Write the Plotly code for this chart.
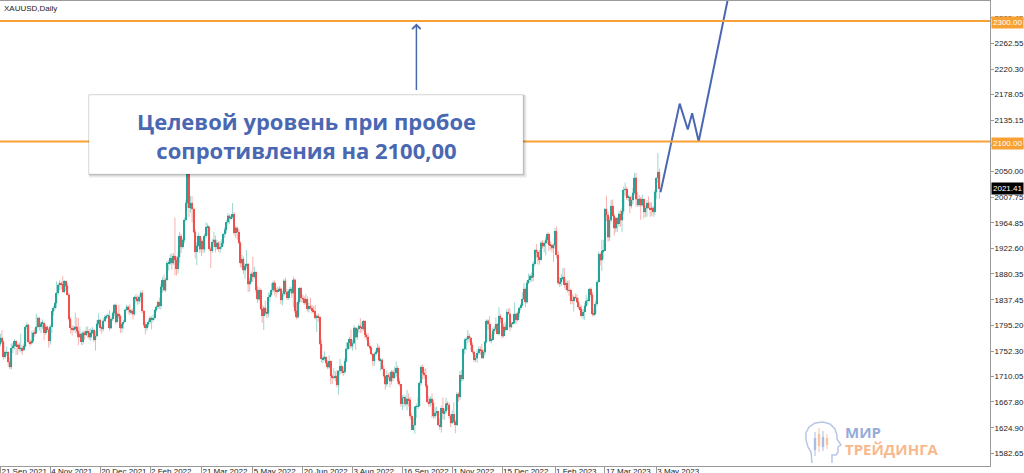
import pandas as pd
import plotly.graph_objects as go

# ---------------- data (XAUUSD daily) ----------------
open_ = [
    1764,1774,1768,1743,1750,1750,1734,1726,
    1757,1761,1769,1760,1763,1756,1757,1754,1760,1793,1796,1768,1765,1769,1783,1782,1793,1807,1793,1798,1799,
    1783,1793,1788,1769,1793,1818,1824,1832,1849,1862,1865,1863,1851,1868,1860,1846,1805,1790,1788,1790,1793,1785,
    1775,1781,1768,1783,1779,1785,1783,1775,1783,1787,1771,1777,1798,1804,1791,1789,1803,1808,1811,1811,1790,1805,1815,
    1829,1801,1814,1810,1790,1797,1801,1821,1826,1821,1817,1819,1813,1842,1839,1835,1842,1849,1819,1796,1791,
    1797,1801,1807,1805,1807,1820,1826,1833,1827,1859,1870,1853,1871,1898,1898,1906,1898,1910,1904,1889,
    1909,1943,1925,1936,1970,1998,2050,1990,1998,1988,1950,1917,1927,1943,1921,1935,1921,1944,1958,1958,1922,1919,1933,
    1937,1925,1932,1922,1925,1931,1946,1954,1966,1977,1973,1975,1979,1949,1957,1950,1932,1898,1905,1886,1894,
    1897,1863,1868,1881,1876,1883,1854,1838,1853,1822,1811,1824,1815,1815,1842,1846,1853,1866,1853,1851,1853,1856,
    1837,1847,1869,1851,1841,1852,1855,1848,1871,1819,1808,1834,1857,1840,1839,1832,1838,1822,1827,1823,1820,1818,
    1807,1811,1808,1764,1739,1740,1742,1733,1725,1735,1711,1708,1709,1711,1696,1719,1727,1719,1717,1735,1756,
    1766,1772,1760,1765,1791,1775,1789,1794,1792,1789,1802,1779,1775,1761,1758,1747,1736,1748,1751,1758,1737,1738,1723,
    1711,1697,1712,1710,1702,1718,1708,1716,1724,1702,1697,1665,1675,1675,1664,1673,1671,1644,1622,1629,1660,1660,
    1661,1699,1725,1716,1712,1695,1668,1666,1673,1666,1644,1650,1652,1629,1627,1657,1649,1652,1665,1663,1645,
    1633,1647,1635,1630,1681,1676,1712,1706,1755,1771,1772,1777,1774,1762,1751,1738,1740,1749,1755,1754,1741,1750,
    1768,1803,1797,1769,1771,1786,1789,1797,1781,1810,1807,1777,1793,1788,1817,1814,1792,1798,1799,1814,1804,1815,
    1824,1828,1839,1855,1833,1865,1871,1877,1875,1897,1920,1916,1908,1904,1932,1926,1931,1937,1946,1929,1928,1923,
    1928,1951,1912,1865,1867,1873,1875,1862,1865,1853,1853,1836,1836,1842,1841,1834,1825,1822,1811,1817,
    1827,1836,1836,1855,1846,1813,1814,1831,1867,1913,1903,1918,1919,1988,1978,1941,1969,1993,1977,1956,1973,1964,1980,
    1969,1984,2020,2021,2007,2008,1993,2003,2015,2040,2004,1995,2005,1994,2004,1983,1989,1998,1990,1988,
    1990,1983,2016,2040,2049,
]
high = [
    1781,1787,1770,1753,1760,1752,1742,1765,
    1765,1772,1770,1763,1767,1781,1762,1765,1796,1800,1797,1772,1785,1787,1790,1814,1810,1809,1801,1805,1801,
    1797,1795,1790,1796,1819,1827,1834,1868,1865,1870,1868,1877,1870,1869,1865,1849,1809,1795,1794,1816,1808,1807,
    1793,1783,1786,1786,1793,1793,1789,1790,1792,1789,1785,1804,1815,1806,1795,1807,1812,1813,1815,1820,1808,1818,1830,
    1831,1816,1829,1813,1799,1804,1823,1829,1828,1830,1822,1823,1844,1847,1844,1846,1852,1853,1820,1800,1798,
    1805,1810,1810,1813,1822,1829,1836,1841,1864,1875,1879,1874,1902,1903,1913,1914,1915,1974,1909,1917,
    1950,1947,1940,1974,2003,2070,2057,2010,2009,1990,1954,1933,1949,1944,1939,1937,1947,1966,1964,1960,1926,1938,1950,
    1944,1937,1934,1935,1938,1948,1958,1970,1981,1979,1978,1998,1983,1960,1959,1955,1935,1912,1909,1898,1920,
    1898,1874,1884,1909,1892,1885,1860,1858,1856,1829,1827,1836,1823,1849,1850,1865,1869,1870,1857,1859,1860,1858,
    1852,1872,1874,1855,1855,1859,1858,1876,1873,1833,1837,1858,1858,1846,1843,1847,1843,1833,1841,1829,1827,1829,
    1813,1815,1810,1771,1745,1752,1744,1737,1745,1737,1714,1724,1719,1721,1721,1739,1730,1726,1740,1767,1767,
    1776,1788,1771,1795,1792,1791,1797,1807,1800,1804,1803,1783,1782,1766,1760,1749,1750,1754,1765,1762,1741,1740,1728,
    1712,1720,1716,1718,1721,1721,1726,1735,1728,1707,1698,1679,1680,1678,1688,1682,1676,1649,1641,1661,1665,1676,
    1702,1729,1730,1722,1724,1697,1677,1677,1682,1671,1659,1660,1653,1640,1662,1675,1657,1675,1669,1667,1648,
    1654,1667,1638,1684,1684,1719,1721,1757,1774,1775,1787,1781,1776,1767,1753,1746,1755,1760,1760,1764,1755,1769,
    1805,1805,1810,1780,1791,1794,1808,1799,1825,1814,1808,1798,1800,1822,1823,1824,1801,1801,1833,1816,1818,1826,
    1831,1850,1865,1858,1869,1881,1880,1883,1901,1922,1930,1920,1920,1935,1937,1935,1942,1949,1949,1935,1930,1931,
    1957,1959,1918,1875,1880,1890,1890,1871,1869,1870,1856,1847,1844,1848,1847,1841,1830,1828,1822,1832,
    1845,1841,1857,1858,1850,1822,1836,1870,1917,1916,1937,1937,1990,2010,1984,1975,2003,2004,1980,1975,1975,1985,1987,
    1990,2025,2032,2025,2012,2010,2010,2023,2048,2048,2016,2011,2008,2012,2005,1994,2003,2009,2000,1999,
    1993,2019,2040,2081,2055,
]
low = [
    1760,1764,1738,1740,1745,1726,1722,1722,
    1749,1755,1746,1746,1752,1750,1746,1752,1758,1789,1765,1760,1763,1766,1776,1781,1790,1786,1782,1789,1770,
    1779,1784,1758,1763,1782,1811,1820,1824,1845,1853,1855,1849,1848,1852,1844,1802,1782,1778,1785,1782,1781,1762,
    1775,1762,1763,1771,1777,1774,1771,1769,1780,1767,1753,1776,1793,1785,1781,1785,1800,1805,1806,1786,1789,1802,1810,
    1797,1799,1806,1782,1783,1789,1800,1819,1814,1812,1813,1805,1811,1833,1829,1830,1834,1815,1792,1780,1786,
    1792,1797,1788,1800,1804,1817,1822,1822,1821,1849,1851,1850,1869,1886,1895,1887,1895,1878,1878,1881,
    1898,1915,1922,1931,1967,1990,1975,1982,1966,1948,1906,1895,1926,1915,1910,1915,1916,1940,1944,1918,1890,1915,1925,
    1916,1920,1917,1915,1921,1926,1940,1948,1962,1963,1970,1972,1944,1940,1937,1930,1891,1890,1880,1872,1889,
    1850,1851,1865,1867,1872,1849,1832,1836,1821,1799,1787,1812,1807,1808,1834,1843,1850,1845,1841,1848,1850,1830,
    1828,1843,1846,1837,1837,1847,1841,1825,1815,1805,1806,1830,1833,1833,1829,1829,1818,1816,1821,1814,1815,1805,
    1784,1801,1763,1733,1732,1736,1728,1722,1723,1697,1698,1705,1702,1692,1680,1713,1715,1711,1714,1733,1753,
    1756,1756,1753,1764,1754,1771,1783,1782,1783,1786,1773,1770,1759,1754,1745,1727,1728,1744,1749,1734,1720,1721,1708,
    1688,1693,1705,1692,1697,1702,1706,1710,1697,1694,1660,1654,1659,1661,1654,1660,1639,1621,1620,1615,1641,1656,
    1660,1695,1705,1706,1691,1665,1660,1660,1642,1640,1640,1645,1628,1621,1617,1639,1638,1648,1654,1640,1626,
    1631,1633,1616,1628,1668,1671,1701,1703,1747,1754,1765,1767,1754,1747,1734,1734,1733,1746,1746,1739,1739,1745,
    1765,1788,1767,1765,1770,1780,1785,1780,1778,1799,1773,1775,1784,1786,1813,1785,1790,1796,1797,1797,1801,1809,
    1820,1826,1837,1825,1831,1864,1867,1867,1868,1893,1907,1896,1896,1902,1922,1916,1911,1930,1918,1920,1916,1900,
    1922,1906,1862,1859,1860,1869,1856,1853,1850,1844,1830,1830,1818,1838,1832,1822,1818,1809,1805,1804,
    1826,1829,1834,1842,1810,1809,1812,1827,1866,1894,1885,1905,1918,1968,1934,1935,1966,1976,1944,1949,1950,1959,1959,
    1950,1979,2010,2003,2001,1981,1989,1996,2012,1992,1992,1992,1970,1992,1972,1975,1975,1989,1975,1977,
    1975,1978,2004,2031,2005,
]
close = [
    1774,1768,1743,1750,1750,1734,1726,1757,
    1761,1769,1760,1763,1756,1757,1754,1760,1793,1796,1768,1765,1769,1783,1782,1793,1807,1793,1798,1799,1783,
    1793,1788,1769,1793,1818,1824,1832,1849,1862,1865,1863,1851,1868,1860,1846,1805,1790,1788,1790,1793,1785,1775,
    1781,1768,1783,1779,1785,1783,1775,1783,1787,1771,1777,1798,1804,1791,1789,1803,1808,1811,1811,1790,1805,1815,1829,
    1801,1814,1810,1790,1797,1801,1821,1826,1821,1817,1819,1813,1842,1839,1835,1842,1849,1819,1796,1791,1797,
    1801,1807,1805,1807,1820,1826,1833,1827,1859,1870,1853,1871,1898,1898,1906,1898,1910,1904,1889,1909,
    1943,1925,1936,1970,1998,2050,1990,1998,1988,1950,1917,1927,1943,1921,1935,1921,1944,1958,1958,1922,1919,1933,1937,
    1925,1932,1922,1925,1931,1946,1954,1966,1977,1973,1975,1979,1949,1957,1950,1932,1898,1905,1886,1894,1897,
    1863,1868,1881,1876,1883,1854,1838,1853,1822,1811,1824,1815,1815,1842,1846,1853,1866,1853,1851,1853,1856,1837,
    1847,1869,1851,1841,1852,1855,1848,1871,1819,1808,1834,1857,1840,1839,1832,1838,1822,1827,1823,1820,1818,1807,
    1811,1808,1764,1739,1740,1742,1733,1725,1735,1711,1708,1709,1711,1696,1719,1727,1719,1717,1735,1756,1766,
    1772,1760,1765,1791,1775,1789,1794,1792,1789,1802,1779,1775,1761,1758,1747,1736,1748,1751,1758,1737,1738,1723,1711,
    1697,1712,1710,1702,1718,1708,1716,1724,1702,1697,1665,1675,1675,1664,1673,1671,1644,1622,1629,1660,1660,1661,
    1699,1725,1716,1712,1695,1668,1666,1673,1666,1644,1650,1652,1629,1627,1657,1649,1652,1665,1663,1645,1633,
    1647,1635,1630,1681,1676,1712,1706,1755,1771,1772,1777,1774,1762,1751,1738,1740,1749,1755,1754,1741,1750,1768,
    1803,1797,1769,1771,1786,1789,1797,1781,1810,1807,1777,1793,1788,1817,1814,1792,1798,1799,1814,1804,1815,1824,
    1828,1839,1855,1833,1865,1871,1877,1875,1897,1920,1916,1908,1904,1932,1926,1931,1937,1946,1929,1928,1923,1928,
    1951,1912,1865,1867,1873,1875,1862,1865,1853,1853,1836,1836,1842,1841,1834,1825,1822,1811,1817,1827,
    1836,1836,1855,1846,1813,1814,1831,1867,1913,1903,1918,1919,1988,1978,1941,1969,1993,1977,1956,1973,1964,1980,1969,
    1984,2020,2021,2007,2008,1993,2003,2015,2040,2004,1995,2005,1994,2004,1983,1989,1998,1990,1988,1990,
    1983,2016,2040,2049,2021.41,
]

tick_dates = ["2021-09-21", "2021-11-04", "2021-12-20", "2022-02-02", "2022-03-21",
              "2022-05-05", "2022-06-20", "2022-08-03", "2022-09-16", "2022-11-01",
              "2022-12-15", "2023-02-01", "2023-03-17", "2023-05-03"]
tick_text = ["21 Sep 2021", "4 Nov 2021", "20 Dec 2021", "2 Feb 2022", "21 Mar 2022",
             "5 May 2022", "20 Jun 2022", "3 Aug 2022", "16 Sep 2022", "1 Nov 2022",
             "15 Dec 2022", "1 Feb 2023", "17 Mar 2023", "3 May 2023"]
price_ticks = [2305.45, 2262.55, 2220.30, 2178.05, 2135.15, 2092.90, 2050.00, 2007.75,
               1964.85, 1922.60, 1880.35, 1837.45, 1795.20, 1752.30, 1710.05, 1667.80,
               1624.90, 1582.65]
levels = [2300.00, 2100.00]
last_price = 2021.41

# projected path (bar index, price)
path_bar = [423.7, 436.0, 441.2, 444.0, 448.2, 467.2]
path_price = [2016, 2163, 2120, 2147, 2100, 2340]

arrow_bar = 267.0
arrow_from = 2183
arrow_to = 2296

box_text = "Целевой уровень при пробое<br>сопротивления на 2100,00"
symbol_text = "XAUUSD,Daily"

# ---------------- styling ----------------
W, H = 1024, 473
ML, MR, MT, MB = 0, 34, 1, 7
PW, PH = W - ML - MR, H - MT - MB
UP, DN = "#26a69a", "#ef5350"
UP_W, DN_W = "rgba(38,166,154,0.45)", "rgba(239,83,80,0.45)"
ORANGE = "#f7a135"
BLUE = "#4a68b2"
AX = "#9a9a9a"
TICKFONT = dict(family="Liberation Sans", size=8, color="#222")


def px(x):
    return (x - ML) / PW


def py(y):
    return (MT + PH - y) / PH


dates = pd.bdate_range("2021-09-21", periods=len(close))
bar = list(range(len(close)))
tick_bar = [int(dates.get_loc(pd.Timestamp(d))) for d in tick_dates]

body_base = [min(o, c) for o, c in zip(open_, close)]
body_h = [max(abs(c - o), 0.6) for o, c in zip(open_, close)]
body_col = [UP if c >= o else DN for o, c in zip(open_, close)]

fig = go.Figure()
fig.add_trace(go.Candlestick(
    x=bar, open=open_, high=high, low=low, close=close,
    increasing=dict(line=dict(color=UP_W, width=1), fillcolor=UP_W),
    decreasing=dict(line=dict(color=DN_W, width=1), fillcolor=DN_W),
    whiskerwidth=0, showlegend=False, hoverinfo="skip",
))
fig.add_trace(go.Bar(
    x=bar, y=body_h, base=body_base, width=0.8,
    marker=dict(color=body_col, line=dict(width=0)),
    showlegend=False, hoverinfo="skip",
))
fig.add_trace(go.Scatter(
    x=path_bar, y=path_price, mode="lines",
    line=dict(color=BLUE, width=2), showlegend=False, hoverinfo="skip",
))

shapes = []
for lv in levels:
    shapes.append(dict(type="line", xref="paper", yref="y", x0=0, x1=1, y0=lv, y1=lv,
                       line=dict(color=ORANGE, width=2), layer="above"))

# text box with soft shadow
bx0, bx1, by0, by1 = 89, 523, 95, 174
for d, op in [(4, 0.04), (3, 0.05), (2, 0.07), (1, 0.08)]:
    shapes.append(dict(type="rect", xref="paper", yref="paper",
                       x0=px(bx0 - 1 + d * 0.3), x1=px(bx1 + d), y0=py(by1 + d), y1=py(by0 - 1 + d * 0.3),
                       fillcolor=f"rgba(0,0,0,{op})", line=dict(width=0), layer="above"))
shapes.append(dict(type="rect", xref="paper", yref="paper",
                   x0=px(bx0), x1=px(bx1), y0=py(by1), y1=py(by0),
                   fillcolor="white", line=dict(color="rgba(0,0,0,0.08)", width=1), layer="above"))

# watermark icon (head outline with small candles)
head = [(812, 463), (811, 452), (808, 447), (806, 440), (806, 433), (809, 427), (815, 423),
        (823, 422), (830, 424), (835, 429), (837, 435), (837, 439), (841, 445), (838, 447),
        (838, 452), (836, 455), (832, 455), (832, 463)]
path = "M " + " L ".join(f"{px(x):.5f},{py(y):.5f}" for x, y in head)
shapes.append(dict(type="path", xref="paper", yref="paper", path=path,
                   line=dict(color="#b8c6e8", width=1.5), layer="above"))
icon_candles = [(815, 432, 456, 438, 450, "#a9bce6"), (819, 428, 452, 434, 446, "#f9c49c"),
                (823, 431, 451, 437, 447, "#a9bce6"), (827, 434, 449, 438, 445, "#f9c49c")]
for x, w0, w1, b0, b1, col in icon_candles:
    shapes.append(dict(type="line", xref="paper", yref="paper", x0=px(x), x1=px(x),
                       y0=py(w1), y1=py(w0), line=dict(color=col, width=1), layer="above"))
    shapes.append(dict(type="rect", xref="paper", yref="paper", x0=px(x - 1.2), x1=px(x + 1.2),
                       y0=py(b1), y1=py(b0), fillcolor=col, line=dict(width=0), layer="above"))

annotations = [
    dict(xref="paper", yref="paper", x=px(306), y=py(135), text=box_text, showarrow=False,
         xanchor="center", yanchor="middle", align="center",
         font=dict(family="Open Sans", size=22, color=BLUE, weight=700)),
    dict(x=arrow_bar, y=arrow_to, ax=arrow_bar, ay=arrow_from, xref="x", yref="y",
         axref="x", ayref="y", text="", showarrow=True, arrowhead=4, arrowsize=1.1,
         arrowwidth=1.5, arrowcolor=BLUE),
    dict(xref="paper", yref="paper", x=px(2), y=py(2), text=symbol_text, showarrow=False,
         xanchor="left", yanchor="top", font=dict(family="Liberation Sans", size=8, color="#222")),
    dict(xref="paper", yref="paper", x=px(843), y=py(432), text="МИР", showarrow=False,
         xanchor="left", yanchor="middle",
         font=dict(family="Open Sans", size=15, color="#97abd9", weight=700)),
    dict(xref="paper", yref="paper", x=px(843), y=py(449), text="ТРЕЙДИНГА", showarrow=False,
         xanchor="left", yanchor="middle",
         font=dict(family="Open Sans", size=15, color="#f9b88a", weight=700)),
]
for lv in levels:
    annotations.append(dict(xref="paper", yref="y", x=1, y=lv, xshift=1, yshift=-1.5,
                            text=f"{lv:.2f}", showarrow=False, xanchor="left", yanchor="middle",
                            bgcolor=ORANGE, borderpad=1,
                            font=dict(family="Liberation Sans", size=8, color="white")))
annotations.append(dict(xref="paper", yref="y", x=1, y=last_price, xshift=1, text=f"{last_price:.2f}",
                        showarrow=False, xanchor="left", yanchor="middle", bgcolor="black",
                        borderpad=1, font=dict(family="Liberation Sans", size=8, color="white")))

fig.update_layout(
    width=W, height=H,
    margin=dict(l=ML, r=MR, t=MT, b=MB, autoexpand=False),
    paper_bgcolor="white", plot_bgcolor="white",
    showlegend=False, bargap=0,
    shapes=shapes, annotations=annotations,
    xaxis=dict(
        range=[-0.3, 635.2], rangeslider=dict(visible=False), automargin=False,
        tickmode="array", tickvals=tick_bar, ticktext=tick_text, tickangle=0,
        ticks="outside", ticklen=7, tickcolor=AX, tickfont=TICKFONT,
        ticklabelposition="outside right", ticklabelstandoff=-3,
        showgrid=False, zeroline=False, showline=True, linecolor=AX, mirror=True,
    ),
    yaxis=dict(
        range=[1561.5, 2333.3], side="right", automargin=False,
        tickmode="array", tickvals=price_ticks, ticktext=[f"{v:.2f}" for v in price_ticks],
        ticks="outside", ticklen=3, tickcolor=AX, tickfont=TICKFONT, ticklabelstandoff=-1,
        showgrid=False, zeroline=False, showline=True, linecolor=AX,
    ),
)

fig.write_html("out.html", config={"displayModeBar": False},
               post_script="document.body.style.margin='0';document.body.style.overflow='hidden';")
